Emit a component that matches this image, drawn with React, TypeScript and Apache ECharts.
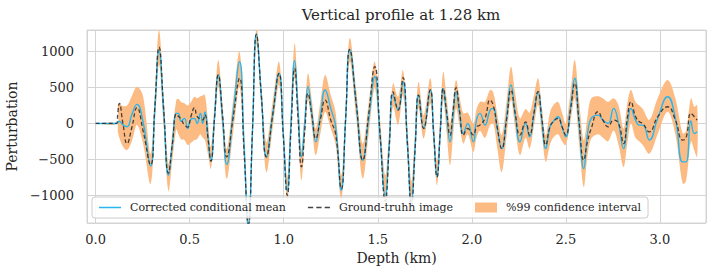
import React, { useEffect, useRef } from "react";
import * as echarts from "echarts";

const depth = [
  0.0, 0.112, 0.118, 0.126, 0.145, 0.167, 0.192, 0.22, 0.252, 0.292, 0.315, 0.337, 0.362, 0.387, 0.408,
  0.429, 0.44, 0.454, 0.472, 0.489, 0.507, 0.525, 0.539, 0.557, 0.569, 0.581, 0.597, 0.613, 0.632, 0.652,
  0.675, 0.697, 0.731, 0.765, 0.789, 0.812, 0.834, 0.855, 0.881, 0.908, 0.941, 0.975, 0.997, 1.019, 1.038,
  1.058, 1.076, 1.094, 1.112, 1.129, 1.15, 1.17, 1.195, 1.22, 1.25, 1.276, 1.306, 1.329, 1.351, 1.386,
  1.42, 1.452, 1.484, 1.512, 1.54, 1.561, 1.581, 1.608, 1.634, 1.657, 1.679, 1.698, 1.717, 1.744, 1.779,
  1.797, 1.815, 1.832, 1.848, 1.866, 1.884, 1.9, 1.916, 1.935, 1.955, 1.978, 2.008, 2.025, 2.043, 2.07,
  2.097, 2.114, 2.135, 2.159, 2.185, 2.208, 2.23, 2.256, 2.286, 2.307, 2.33, 2.352, 2.372, 2.393, 2.415,
  2.432, 2.458, 2.48, 2.499, 2.525, 2.547, 2.57, 2.595, 2.615, 2.635, 2.671, 2.697, 2.724, 2.754, 2.78,
  2.807, 2.828, 2.846, 2.87, 2.891, 2.909, 2.944, 2.988, 3.041, 3.082, 3.121, 3.139, 3.165, 3.183, 3.198,
];

const truth = [
  0, 0, 150, 280, 0, -280, -60, 220, -100, -575, 240, 1060, 185, -690, -280,
  130, 100, 60, -20, -50, 100, 220, 100, 60, 50, 120, -200, -525, 75, 674,
  105, -465, 82, 630, -385, -1400, -80, 1240, 380, -465, 116, 697, -150, -1000, -117,
  767, 81, -605, -93, 418, 105, -209, 58, 325, 46, -150, -907, 61, 1030, 260,
  -511, 140, 790, -145, -1080, -320, 440, 186, 637, -256, -1150, -377, 395, -70, 465,
  -140, -744, -128, 488, 162, -163, 168, 498, 168, -163, -70, -160, -50, -23, 70,
  325, 250, -50, -350, 58, 465, 151, -163, 23, -163, 140, 442, 71, -300, -50,
  23, 70, -50, -163, 198, 558, 24, -511, -250, -70, 163, 46, -46, 46, 0,
  -280, 100, 302, 100, 23, 0, -116, 93, 232, 50, -232, -200, 140, 93, 46,
];

const mean = [
  0, 0, 10, 30, -20, -45, 120, 265, 20, -590, 210, 1010, 150, -720, -290,
  140, 140, 30, 70, -70, 60, 70, 0, 140, 0, 160, -180, -525, 75, 674,
  52, -570, 145, 860, -285, -1430, -90, 1250, 390, -465, 116, 697, -120, -930, -28,
  874, 204, -465, 23, 511, 127, -256, 104, 465, 209, -46, -930, 50, 1030, 260,
  -511, 70, 650, -175, -1000, -302, 395, 186, 581, -260, -1100, -352, 395, -70, 465,
  -140, -744, -128, 488, 116, -256, 93, 442, 151, -140, 0, -256, 50, 140, -23,
  186, 209, -70, -350, 93, 535, 140, -256, 0, -186, 128, 442, 46, -350, -50,
  23, 93, -50, -186, 221, 628, 0, -628, -150, 70, 116, 46, 0, 209, 0,
  -350, 0, 209, 50, -23, -23, -232, 70, 372, 70, -535, -535, 33, -140, -116,
];

const lower = [
  0, 0, -120, -200, -320, -370, -250, -20, -280, -840, 0, 820, -60, -940, -510,
  -80, -150, -220, -230, -300, -270, -230, -220, -150, -200, -230, -430, -630, -60, 510,
  -130, -770, -130, 510, -525, -1560, -230, 1100, 210, -680, -72, 535, -260, -1060, -216,
  628, -81, -790, -232, 325, -58, -442, -140, 163, -70, -300, -1070, -105, 860, 47,
  -767, -140, 488, -306, -1100, -434, 232, -20, 395, -402, -1200, -495, 210, -210, 280,
  -290, -860, -268, 325, -128, -580, -186, 209, -36, -280, -150, -395, -200, -100, -200,
  -23, 0, -338, -675, -175, 325, -58, -442, -200, -350, -47, 256, -140, -535, -300,
  -200, -150, -250, -300, 25, 349, -268, -884, -450, -210, -150, -200, -250, -100, -300,
  -605, -250, 0, -200, -250, -300, -420, -150, 163, -150, -837, -800, -250, -380, -465,
];

const upper = [
  0, 0, 260, 270, 240, 250, 380, 510, 380, -420, 440, 1300, 370, -560, -115,
  330, 340, 300, 280, 250, 300, 370, 350, 380, 390, 400, 40, -320, 280, 880,
  265, -350, 325, 1000, -125, -1250, 50, 1350, 545, -260, 300, 860, 55, -750, 183,
  1116, 378, -360, 168, 697, 313, -70, 302, 674, 395, 150, -720, 235, 1190, 455,
  -280, 290, 860, 70, -720, -81, 558, 370, 744, -28, -800, -110, 580, 115, 628,
  54, -520, 100, 720, 360, 0, 302, 605, 372, 140, 150, 0, 200, 300, 300,
  465, 430, 135, -160, 315, 790, 430, 70, 200, 150, 389, 628, 234, -160, 150,
  250, 300, 150, 0, 442, 883, 326, -232, 100, 350, 380, 350, 300, 350, 250,
  -70, 300, 465, 300, 250, 200, 50, 350, 605, 350, -140, -100, 350, 230, 256,
];

const FONT = "DejaVu Serif";
const TEXT = "#262626";
const GRID = "#d4d4d4";
const BLUE = "#29b6ec";
const DARK = "rgba(40,40,40,0.85)";
const ORANGE = "#fdbb84";

export default function App() {
  const ref = useRef<HTMLDivElement>(null);
  useEffect(() => {
    if (!ref.current) return;
    const chart = echarts.init(ref.current, undefined, { renderer: "svg" });
    const pairs = (ys: number[]) => depth.map((d, i) => [d, ys[i]]);
    chart.setOption({
      animation: false,
      backgroundColor: "#ffffff",
      title: {
        text: "Vertical profile at 1.28 km",
        left: 396,
        textAlign: "center",
        top: 2,
        textStyle: { fontFamily: FONT, fontSize: 15, fontWeight: "normal", color: TEXT },
      },
      grid: {
        left: 87,
        right: 10,
        top: 30,
        bottom: 53,
        outerBoundsMode: "none",
        containLabel: false,
        show: true,
        borderColor: GRID,
        borderWidth: 1,
        backgroundColor: "transparent",
      },
      legend: {
        left: 92,
        top: 197,
        data: [
          {
            name: "Corrected conditional mean",
            icon: "path://M0,0 L22,0 L22,1.5 L0,1.5 Z",
            itemStyle: { color: BLUE },
          },
          {
            name: "Ground-truhh image",
            icon: "path://M0,0 h5 v1.4 h-5 Z M8,0 h5 v1.4 h-5 Z M16,0 h5 v1.4 h-5 Z",
            itemStyle: { color: "#444444" },
          },
          { name: "%99 confidence interval", icon: "rect", itemStyle: { color: ORANGE } },
        ],
        itemWidth: 22,
        itemHeight: 10,
        itemGap: 22,
        padding: [5, 7, 5, 7],
        backgroundColor: "rgba(255,255,255,0.85)",
        borderColor: "#cccccc",
        borderWidth: 1,
        borderRadius: 3,
        textStyle: { fontFamily: FONT, fontSize: 11, color: TEXT, padding: [0, 0, 0, 4] },
      },
      xAxis: {
        type: "value",
        min: -0.046,
        max: 3.245,
        name: "Depth (km)",
        nameLocation: "middle",
        nameGap: 27,
        nameTextStyle: { fontFamily: FONT, fontSize: 14, color: TEXT },
        axisLine: { show: false },
        axisTick: { show: false },
        axisLabel: {
          fontFamily: FONT,
          fontSize: 13,
          color: TEXT,
          margin: 10,
          showMinLabel: false,
          showMaxLabel: false,
          formatter: (v: number) => v.toFixed(1),
        },
        splitLine: { show: true, lineStyle: { color: GRID, width: 1 } },
      },
      yAxis: {
        type: "value",
        min: -1385,
        max: 1300,
        name: "Perturbation",
        nameLocation: "middle",
        nameGap: 58,
        nameTextStyle: { fontFamily: FONT, fontSize: 14, color: TEXT },
        axisLine: { show: false },
        axisTick: { show: false },
        axisLabel: {
          fontFamily: FONT,
          fontSize: 13,
          color: TEXT,
          margin: 13,
          showMinLabel: false,
          showMaxLabel: false,
          formatter: (v: number) => (v < 0 ? "\u2212" + Math.abs(v) : String(v)),
        },
        splitLine: { show: true, lineStyle: { color: GRID, width: 1 } },
      },
      series: [
        {
          name: "%99 confidence interval",
          type: "custom",
          data: [[0, 0]],
          clip: true,
          silent: true,
          itemStyle: { color: ORANGE },
          renderItem: (_params: any, api: any) => {
            const top = depth.map((d, i) => api.coord([d, upper[i]]));
            const bot = depth.map((d, i) => api.coord([d, lower[i]])).reverse();
            return {
              type: "polygon",
              shape: { points: top.concat(bot), smooth: 0.35 },
              style: { fill: ORANGE, stroke: "none" },
            };
          },
        },
        {
          name: "Corrected conditional mean",
          type: "line",
          data: pairs(mean),
          smooth: 0.5,
          symbol: "none",
          lineStyle: { color: BLUE, width: 1.4 },
          itemStyle: { color: BLUE },
        },
        {
          name: "Ground-truhh image",
          type: "line",
          data: pairs(truth),
          smooth: 0.5,
          symbol: "none",
          lineStyle: { color: DARK, width: 1.3, type: [4, 2.5] },
          itemStyle: { color: DARK },
        },
      ],
    });
    return () => chart.dispose();
  }, []);
  return (
    <div
      ref={ref}
      style={{ position: "absolute", left: 0, top: 0, width: 716, height: 276 }}
    />
  );
}
